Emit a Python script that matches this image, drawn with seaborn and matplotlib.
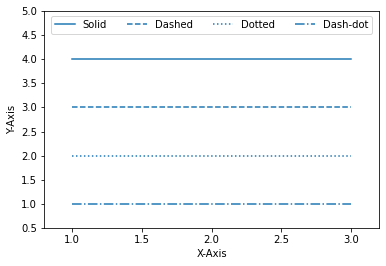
import matplotlib
matplotlib.use("Agg")
import matplotlib.pyplot as plt
import seaborn as sns
import pandas as pd

x_vals = [1.0, 3.0]
labels = ["Solid", "Dashed", "Dotted", "Dash-dot"]
y_levels = [4.0, 3.0, 2.0, 1.0]
styles = ["-", "--", ":", "-."]

rows = []
for lab, y in zip(labels, y_levels):
    for xv in x_vals:
        rows.append({"x": xv, "y": y, "series": lab})
df = pd.DataFrame(rows)

plt.rcParams['font.family'] = ['DejaVu Sans']
fig, ax = plt.subplots(figsize=(386 / 72, 266 / 72), dpi=72)
for lab, ls in zip(labels, styles):
    sub = df[df["series"] == lab]
    sns.lineplot(data=sub, x="x", y="y", ax=ax, color="tab:blue",
                 linestyle=ls, linewidth=1.5, label=lab)

ax.set_xlim(0.8, 3.2)
ax.set_ylim(0.5, 5.0)
ax.set_yticks([0.5, 1.0, 1.5, 2.0, 2.5, 3.0, 3.5, 4.0, 4.5, 5.0])
ax.set_xticks([1.0, 1.5, 2.0, 2.5, 3.0])
ax.set_xlabel("X-Axis")
ax.set_ylabel("Y-Axis")
ax.legend(loc="upper center", ncol=4, frameon=True)
fig.subplots_adjust(left=0.114, right=0.982, top=0.960, bottom=0.142)
fig.savefig("out.png", dpi=72)
